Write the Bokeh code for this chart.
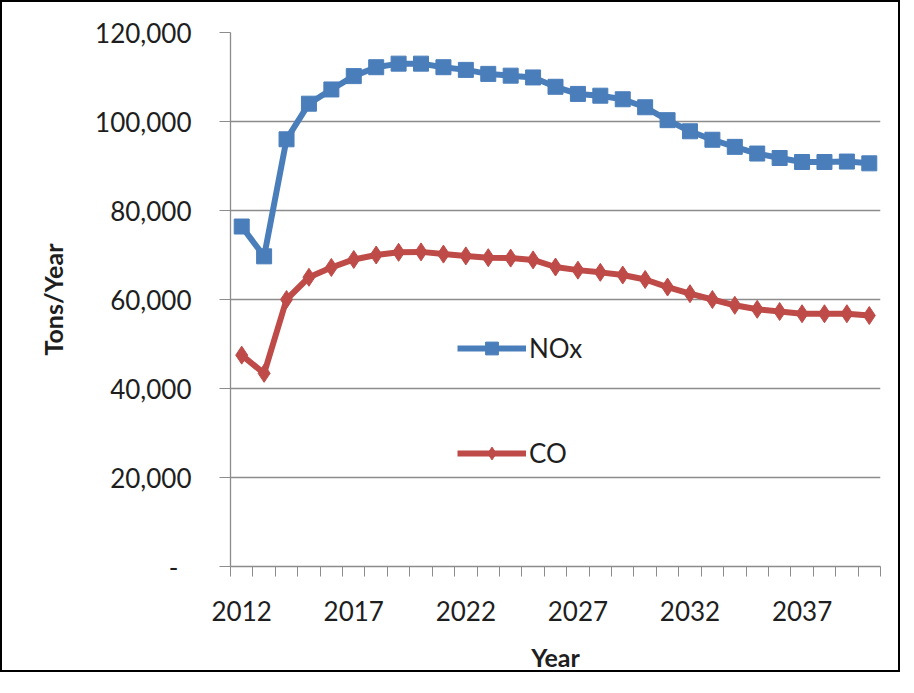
from bokeh.plotting import figure
from bokeh.models import (Range1d, FixedTicker, NumeralTickFormatter, Legend, LegendItem)
from bokeh.embed import file_html
from bokeh.resources import INLINE

years = list(range(2012, 2041))
nox = [76400, 69700, 96000, 104000, 107200, 110200, 112200, 113000, 113000, 112200,
       111600, 110700, 110300, 109900, 107800, 106200, 105800, 105000, 103200, 100300,
       97800, 95900, 94300, 92800, 91800, 90900, 90900, 91000, 90600]
co = [47500, 43400, 60000, 65000, 67200, 69000, 70000, 70600, 70700, 70200,
      69800, 69400, 69300, 68900, 67300, 66600, 66100, 65500, 64500, 62800,
      61300, 60000, 58700, 57800, 57300, 56800, 56800, 56800, 56400]
x_tick_labels = [2012, 2017, 2022, 2027, 2032, 2037]
y_ticks = [0, 20000, 40000, 60000, 80000, 100000, 120000]

BLUE = "#4A7EBB"
RED = "#BE4B48"
GRID = "#8C8C8C"
FONT = "Lato"
TXT = "#1e1e1e"

p = figure(width=900, height=672, output_backend="svg", toolbar_location=None,
           x_range=Range1d(2011.5, 2040.5), y_range=Range1d(0, 120000),
           min_border_left=228, min_border_right=22, min_border_top=30, min_border_bottom=106)
p.styles = {"border": "2px solid black"}
p.outline_line_color = None
p.background_fill_color = "white"
p.border_fill_color = "white"

# axes
p.xaxis.ticker = FixedTicker(ticks=x_tick_labels, minor_ticks=[y - 0.5 for y in years] + [2040.5])
p.xaxis.major_tick_out = 0
p.xaxis.major_tick_in = 0
p.xaxis.minor_tick_out = 10
p.xaxis.minor_tick_in = 0
p.xaxis.minor_tick_line_color = GRID
p.xaxis.axis_line_color = GRID
p.xaxis.major_label_standoff = 24
p.xaxis.axis_label = "Year"
p.xaxis.axis_label_standoff = 18

p.yaxis.ticker = FixedTicker(ticks=y_ticks)
p.yaxis.formatter = NumeralTickFormatter(format="0,0")
p.yaxis.major_label_overrides = {0: "-\u2002"}
p.yaxis.major_tick_out = 11
p.yaxis.major_tick_in = 0
p.yaxis.minor_tick_out = 0
p.yaxis.minor_tick_in = 0
p.yaxis.major_tick_line_color = GRID
p.yaxis.axis_line_color = GRID
p.yaxis.major_label_standoff = 28
p.yaxis.axis_label = "Tons/Year"
p.yaxis.axis_label_standoff = 24

for ax in (p.xaxis, p.yaxis):
    ax.major_label_text_font = FONT
    ax.major_label_text_font_size = "26px"
    ax.major_label_text_color = TXT
    ax.axis_label_text_font = FONT
    ax.axis_label_text_font_size = "25px"
    ax.axis_label_text_font_style = "bold"
    ax.axis_label_text_color = TXT
    ax.axis_line_width = 1.3

p.xgrid.visible = False
p.ygrid.grid_line_color = GRID
p.ygrid.grid_line_width = 1.3

# series
l1 = p.line(years, nox, line_color=BLUE, line_width=6)
m1 = p.scatter(years, nox, marker="square", size=15, fill_color=BLUE, line_color=BLUE)
l2 = p.line(years, co, line_color=RED, line_width=6)
m2 = p.scatter(years, co, marker="diamond", size=18, fill_color=RED, line_color=RED)

legend = Legend(items=[LegendItem(label="NOx", renderers=[l1, m1]),
                       LegendItem(label="CO", renderers=[l2, m2])],
                location=(227, 97), orientation="vertical",
                glyph_width=69, glyph_height=32, label_height=32,
                label_standoff=3, spacing=73, padding=0, margin=0,
                border_line_alpha=0, background_fill_alpha=0,
                label_text_font=FONT, label_text_font_size="26px",
                label_text_color=TXT)
p.add_layout(legend, "center")

open("out.html", "w").write(file_html(p, INLINE))
